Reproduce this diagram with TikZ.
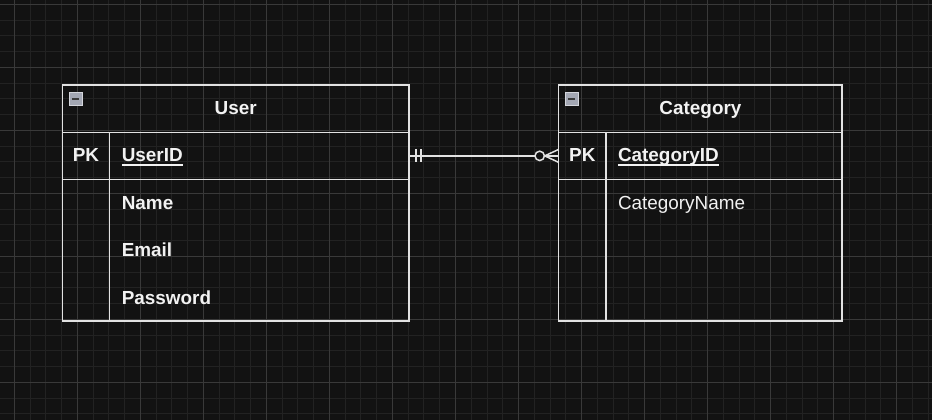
\documentclass[tikz,border=0pt]{standalone}
\usepackage{fontspec}
\setmainfont{Liberation Sans}
\usetikzlibrary{calc}
\definecolor{bg}{HTML}{121212}
\definecolor{gridminor}{HTML}{222222}
\definecolor{gridmajor}{HTML}{393939}
\definecolor{edge}{HTML}{E2E2E2}
\definecolor{txt}{HTML}{F2F2F2}
\definecolor{iconfill}{HTML}{A3A7B3}
\definecolor{iconedge}{HTML}{D4D6DC}
\definecolor{iconbar}{HTML}{3A3A3A}
\tikzset{
  minorline/.style={draw=gridminor, line width=1pt},
  majorline/.style={draw=gridmajor, line width=1pt},
  tablerow/.style={draw=edge, line width=1.5pt, minimum width=#1, minimum height=47.25pt,
    anchor=north west, inner sep=0pt, outer sep=0pt},
  tablebody/.style={draw=edge, line width=1.5pt, minimum width=#1, minimum height=141.5pt,
    anchor=north west, inner sep=0pt, outer sep=0pt},
  divider/.style={draw=edge, line width=1.5pt},
  rel/.style={draw=edge, line width=1.5pt},
  basefont/.style={font=\fontsize{18.9}{22.7}\selectfont, text=txt, inner sep=0pt, outer sep=0pt},
  titletext/.style={basefont, font=\fontsize{18.9}{22.7}\selectfont\bfseries, anchor=base},
  keytext/.style={basefont, font=\fontsize{18.9}{22.7}\selectfont\bfseries, anchor=base},
  fieldbold/.style={basefont, font=\fontsize{18.9}{22.7}\selectfont\bfseries, anchor=base west},
  fieldplain/.style={basefont, anchor=base west},
  uline/.style={draw=txt, line width=1.8pt},
  icon/.style={draw=iconedge, fill=iconfill, line width=1pt, minimum size=13pt,
    anchor=north west, inner sep=0pt, outer sep=0pt},
  iconminus/.style={draw=iconbar, line width=2pt}
}
\begin{document}
\begin{tikzpicture}[x=1pt,y=-1pt]
  \useasboundingbox (0,0) rectangle (932,420);
  \fill[bg] (0,0) rectangle (932,420);
  % grid
  \foreach \k in {0,...,59} \draw[minorline] ({14.3+15.757*\k},0) -- ({14.3+15.757*\k},420);
  \foreach \k in {0,...,26} \draw[minorline] (0,{4.3+15.757*\k}) -- (932,{4.3+15.757*\k});
  \foreach \k in {0,...,14} \draw[majorline] ({14.3+63.03*\k},0) -- ({14.3+63.03*\k},420);
  \foreach \k in {0,...,6} \draw[majorline] (0,{4.3+63.03*\k}) -- (932,{4.3+63.03*\k});

  % User table
  \node[tablerow=346.5pt] (uhead) at (62.5,85) {};
  \node[tablerow=346.5pt] (upk) at (62.5,132.25) {};
  \node[tablebody=346.5pt] (ubody) at (62.5,179.5) {};
  \draw[divider] ($(upk.north west)+(47,0)$) -- ($(ubody.south west)+(47,0)$);
  \node[icon] (uicon) at ($(uhead.north west)+(6.5,7.5)$) {};
  \draw[iconminus] ($(uicon.west)+(2.8,0)$) -- ($(uicon.east)+(-2.8,0)$);
  \node[titletext] (utitle) at (235.75,114.7) {User};
  \node[keytext] (upklabel) at (86,161.8) {PK};
  \node[fieldbold] (uid) at (121.8,161.8) {UserID};
  \draw[uline] ($(uid.base west)+(0,3.3)$) -- ($(uid.base east)+(0,3.3)$);
  \node[fieldbold] (uname) at (121.8,209.6) {Name};
  \node[fieldbold] (uemail) at (121.8,256.8) {Email};
  \node[fieldbold] (upass) at (121.8,304.0) {Password};

  % Category table
  \node[tablerow=283.5pt] (chead) at (558.7,85) {};
  \node[tablerow=283.5pt] (cpk) at (558.7,132.25) {};
  \node[tablebody=283.5pt] (cbody) at (558.7,179.5) {};
  \draw[divider] ($(cpk.north west)+(47.25,0)$) -- ($(cbody.south west)+(47.25,0)$);
  \node[icon] (cicon) at ($(chead.north west)+(6.5,7.5)$) {};
  \draw[iconminus] ($(cicon.west)+(2.8,0)$) -- ($(cicon.east)+(-2.8,0)$);
  \node[titletext] (ctitle) at (700.45,114.7) {Category};
  \node[keytext] (cpklabel) at (582.3,161.8) {PK};
  \node[fieldbold] (cid) at (618,161.8) {CategoryID};
  \draw[uline] ($(cid.base west)+(0,3.3)$) -- ($(cid.base east)+(0,3.3)$);
  \node[fieldplain] (cname) at (618,209.6) {CategoryName};

  % relationship: one-and-only-one to zero-or-many
  \draw[rel] (upk.east) -- (cpk.west);
  \draw[rel] ($(upk.east)+(7,-6.5)$) -- ($(upk.east)+(7,6.5)$);
  \draw[rel] ($(upk.east)+(12,-6.5)$) -- ($(upk.east)+(12,6.5)$);
  \draw[rel] ($(cpk.west)+(0,-6.5)$) -- ($(cpk.west)+(-14,0)$) -- ($(cpk.west)+(0,6.5)$);
  \draw[rel, fill=bg] ($(cpk.west)+(-19,0)$) circle[radius=4.7pt];
\end{tikzpicture}
\end{document}
